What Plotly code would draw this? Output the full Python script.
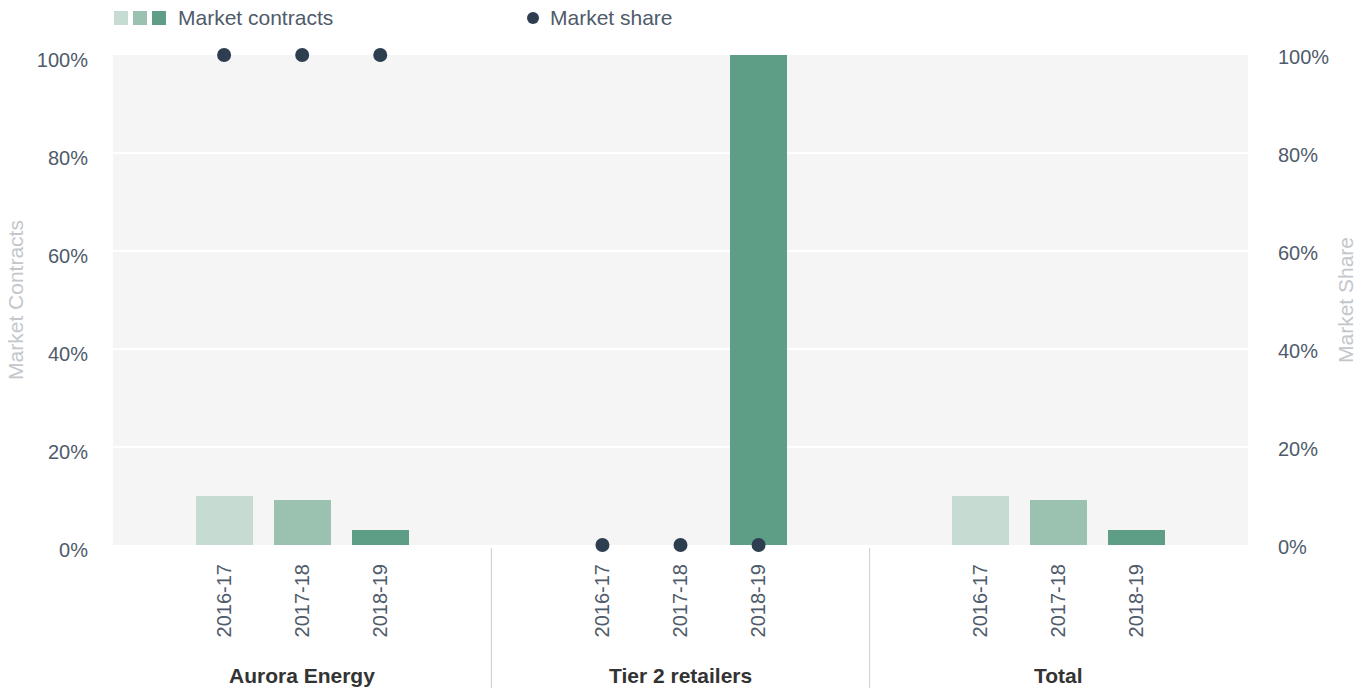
import plotly.graph_objects as go

# Data
groups = ["Aurora Energy", "Tier 2 retailers", "Total"]
years = ["2016-17", "2017-18", "2018-19"]
contracts = {  # market contracts, % by group
    "2016-17": [10.0, 0.0, 10.0],
    "2017-18": [9.2, 0.0, 9.2],
    "2018-19": [3.1, 100.0, 3.1],
}
share = {  # market share, % by group (no value for Total)
    "Aurora Energy": [100, 100, 100],
    "Tier 2 retailers": [0, 0, 0],
    "Total": [None, None, None],
}

bar_colors = ["#c6dcd3", "#9bc1b1", "#5e9e87"]
dot_color = "#2d3e50"
font_family = "Liberation Sans, Arial, sans-serif"

W, H = 1367, 688
L, R, T, B = 113, 1248, 55, 545

def px_x(px):
    return (px - L) / (R - L)

def px_y(py):
    return (B - py) / (B - T)

# bar layout inside each group (x axis runs 0..3, one unit per group)
step = 78 / 378
bar_w = 57 / 378

def xpos(g, j):
    return g + 0.5 + (j - 1) * step

fig = go.Figure()

for j, yr in enumerate(years):
    fig.add_trace(go.Bar(
        x=[xpos(g, j) for g in range(len(groups))],
        y=contracts[yr],
        width=bar_w,
        marker=dict(color=bar_colors[j], line=dict(width=0)),
        name=yr,
        showlegend=False,
        yaxis="y",
    ))

sx, sy = [], []
for g, grp in enumerate(groups):
    for j in range(len(years)):
        sx.append(xpos(g, j))
        sy.append(share[grp][j])
fig.add_trace(go.Scatter(
    x=sx, y=sy, mode="markers",
    marker=dict(color=dot_color, size=14),
    yaxis="y2", cliponaxis=False, showlegend=False, name="Market share",
))

tickvals, ticktext = [], []
for g in range(len(groups)):
    for j, yr in enumerate(years):
        tickvals.append(xpos(g, j))
        ticktext.append(yr)

tick_font = dict(family=font_family, size=20, color="#4f5b6b")
title_font = dict(family=font_family, size=21, color="#c3c7cc")

fig.update_layout(
    width=W, height=H,
    margin=dict(l=L, r=W - R, t=T, b=H - B, pad=0),
    paper_bgcolor="white",
    plot_bgcolor="#f5f5f5",
    bargap=0,
    showlegend=False,
    font=dict(family=font_family),
    xaxis=dict(
        range=[0, 3], tickvals=tickvals, ticktext=ticktext, tickangle=-90,
        tickfont=tick_font, showgrid=False, zeroline=False, showline=False,
        ticks="", ticklabelstandoff=14, fixedrange=True,
    ),
    yaxis=dict(
        range=[0, 100], tickvals=[0, 20, 40, 60, 80, 100],
        ticktext=["0%", "20%", "40%", "60%", "80%", "100%"],
        tickfont=tick_font, showgrid=True, gridcolor="white", gridwidth=2,
        zeroline=False, showline=False, ticks="", ticklabelstandoff=24,
        ticklabelshift=5,
        title=dict(text="Market Contracts", font=title_font, standoff=7),
    ),
    yaxis2=dict(
        range=[0, 100], overlaying="y", side="right",
        tickvals=[0, 20, 40, 60, 80, 100],
        ticktext=["0%", "20%", "40%", "60%", "80%", "100%"],
        tickfont=tick_font, showgrid=False, zeroline=False, showline=False,
        ticks="", ticklabelstandoff=29, ticklabelshift=2,
        title=dict(text="Market Share", font=title_font, standoff=9),
    ),
)

shapes = []
annotations = []

# group separators below the plot
for g in (1, 2):
    shapes.append(dict(type="line", xref="x", yref="paper", x0=g, x1=g,
                       y0=px_y(548), y1=px_y(H), line=dict(color="#cccccc", width=1)))

# group labels
for g, grp in enumerate(groups):
    annotations.append(dict(
        text="<b>%s</b>" % grp, x=g + 0.5, y=px_y(675), xref="x", yref="paper",
        showarrow=False, xanchor="center", yanchor="middle",
        font=dict(family=font_family, size=21, color="#333333"),
    ))

# legend: three swatches + label, dot + label
for k, c in enumerate(bar_colors):
    x0 = 114 + k * 19
    shapes.append(dict(type="rect", xref="paper", yref="paper",
                       x0=px_x(x0), x1=px_x(x0 + 14), y0=px_y(25), y1=px_y(11),
                       fillcolor=c, line=dict(width=0)))
annotations.append(dict(
    text="Market contracts", x=px_x(176), y=px_y(18), xref="paper", yref="paper",
    showarrow=False, xanchor="left", yanchor="middle",
    font=dict(family=font_family, size=21, color="#4f5b6b"),
))
shapes.append(dict(type="circle", xref="paper", yref="paper",
                   x0=px_x(527), x1=px_x(539), y0=px_y(24), y1=px_y(12),
                   fillcolor=dot_color, line=dict(width=0)))
annotations.append(dict(
    text="Market share", x=px_x(548), y=px_y(18), xref="paper", yref="paper",
    showarrow=False, xanchor="left", yanchor="middle",
    font=dict(family=font_family, size=21, color="#4f5b6b"),
))

fig.update_layout(shapes=shapes, annotations=annotations)

fig.write_html("out.html", config=dict(displayModeBar=False))
